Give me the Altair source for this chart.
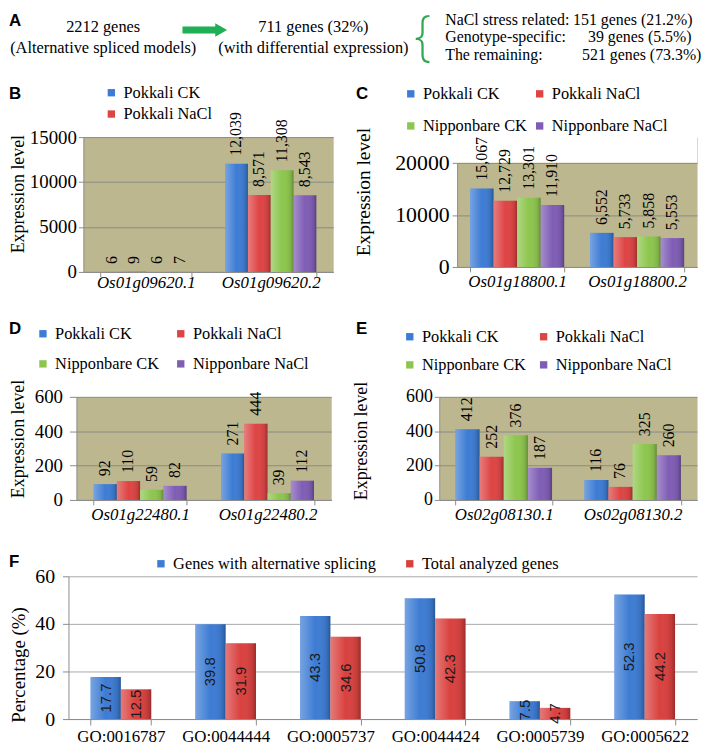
import altair as alt
import pandas as pd

# ---------------- data ----------------
series = ["Pokkali CK", "Pokkali NaCl", "Nipponbare CK", "Nipponbare NaCl"]
series_colors = ["#3D7CD4", "#DE4444", "#8DC64E", "#7F5DB5"]

b_genes = ["Os01g09620.1", "Os01g09620.2"]
b_values = [[6, 9, 6, 7], [12039, 8571, 11308, 8543]]
c_genes = ["Os01g18800.1", "Os01g18800.2"]
c_values = [[15067, 12729, 13301, 11910], [6552, 5733, 5858, 5553]]
d_genes = ["Os01g22480.1", "Os01g22480.2"]
d_values = [[92, 110, 59, 82], [271, 444, 39, 112]]
e_genes = ["Os02g08130.1", "Os02g08130.2"]
e_values = [[412, 252, 376, 187], [116, 76, 325, 260]]

go_terms = ["GO:0016787", "GO:0044444", "GO:0005737", "GO:0044424", "GO:0005739", "GO:0005622"]
go_series = ["Genes with alternative splicing", "Total analyzed genes"]
go_as = [17.7, 39.8, 43.3, 50.8, 7.5, 52.3]
go_total = [12.5, 31.9, 34.6, 42.3, 4.7, 44.2]
go_colors = ["#3D7CD4", "#D9413F"]

a_left = ["2212 genes", "(Alternative spliced models)"]
a_mid = ["711 genes (32%)", "(with differential expression)"]
a_right_labels = ["NaCl stress related:", "Genotype-specific:", "The remaining:"]
a_right_values = ["151 genes (21.2%)", "39 genes (5.5%)", "521 genes (73.3%)"]

# ---------------- styles ----------------
SERIF = "Liberation Serif"
SANS = "Liberation Sans"
OLIVE = "#BDB78F"
AX = "#8C8C8C"
GRID_OLIVE = "#8A8A86"
GRID_F = "#A8A8A8"
GREEN = "#1FAF55"

dummy = pd.DataFrame({"k": [0]})

shade = alt.LinearGradient(
    gradient="linear", x1=0, x2=1, y1=0, y2=0,
    stops=[
        alt.GradientStop(offset=0, color="rgba(255,255,255,0.30)"),
        alt.GradientStop(offset=0.5, color="rgba(255,255,255,0.0)"),
        alt.GradientStop(offset=0.88, color="rgba(0,0,0,0.10)"),
        alt.GradientStop(offset=1, color="rgba(0,0,0,0.30)"),
    ],
)


def txt(s, x, y, size=16.5, align="center", font=SERIF, color="black", weight="normal"):
    return alt.Chart(dummy).mark_text(
        text=s, align=align, baseline="middle", font=font, fontSize=size,
        color=color, fontWeight=weight
    ).encode(x=alt.value(x), y=alt.value(y))


def tag(letter, x, y):
    return alt.Chart(dummy).mark_text(
        text=letter, font=SANS, fontWeight="bold", fontSize=17,
        align="left", baseline="top", color="black"
    ).encode(x=alt.value(x), y=alt.value(y))


def spacer(w, h):
    return alt.Chart(dummy).mark_point(opacity=0).encode(
        x=alt.value(0), y=alt.value(0)
    ).properties(width=w, height=h, view=alt.ViewBackground(stroke="transparent"))


def expr_panel(genes, values, letter, w, h, ymax, yticks, pad_inner, cfg, top=0):
    df = pd.DataFrame([
        {"gene": g, "series": s, "value": v}
        for g, vals in zip(genes, values) for s, v in zip(series, vals)
    ])
    x = alt.X("gene:N", sort=genes,
              scale=alt.Scale(paddingInner=pad_inner, paddingOuter=pad_inner / 2),
              axis=alt.Axis(title=None, labelAngle=0, labelFont=SERIF, labelFontStyle="italic",
                            labelFontSize=17, labelColor="black", labelBaseline="middle",
                            labelPadding=cfg["xpad"], tickSize=5, tickBand="extent",
                            domainColor=AX, tickColor=AX, grid=False))
    xo = alt.XOffset("series:N", sort=series, scale=alt.Scale(domain=series))
    if top:
        yscale = alt.Scale(domain=[0, ymax], nice=False, zero=True, range=[h, top])
    else:
        yscale = alt.Scale(domain=[0, ymax], nice=False, zero=True)
    y = alt.Y("value:Q", scale=yscale,
              axis=alt.Axis(values=yticks, format="d", title="Expression level",
                            titleFont=SERIF, titleFontSize=cfg["tsize"], titleFontWeight="normal",
                            titleColor="black", titleX=cfg["tx"], titleY=cfg["ty"], titleAngle=270,
                            titleAlign="center", titleBaseline="middle",
                            labelFont=SERIF, labelFontSize=cfg["ysize"], labelColor="black",
                            labelPadding=cfg["ypad"], tickSize=cfg["ytick"],
                            domainColor=AX, tickColor=AX, gridColor=GRID_OLIVE, gridWidth=1))
    legend_kw = dict(
        orient="none", legendX=cfg["lx"], legendY=cfg["ly"], title=None,
        columns=cfg["cols"], direction="horizontal" if cfg["cols"] > 1 else "vertical",
        symbolType="square", symbolSize=55, symbolStrokeWidth=0,
        labelFont=SERIF, labelFontSize=16.5, labelColor="black", labelOffset=4, labelLimit=300,
        rowPadding=cfg["rowpad"], columnPadding=cfg["colpad"], padding=0,
    )
    if "lvals" in cfg:
        legend_kw["values"] = cfg["lvals"]
    base = alt.Chart(df)
    bars = base.mark_bar().encode(
        x=x, xOffset=xo, y=y,
        color=alt.Color("series:N", sort=series,
                        scale=alt.Scale(domain=series, range=series_colors),
                        legend=alt.Legend(**legend_kw)))
    gloss = base.mark_bar(fill=shade).encode(x=x, xOffset=xo, y=y)
    labels = base.mark_text(angle=270, align="left", baseline="middle", dx=8,
                            font=SERIF, fontSize=16, color="black").encode(
        x=x, xOffset=xo, y=y, text=alt.Text("value:Q", format=","))
    layers = []
    if top:
        layers.append(alt.Chart(dummy).mark_rect(color="white").encode(
            x=alt.value(0), x2=alt.value(w), y=alt.value(0), y2=alt.value(top)))
    layers += [bars, gloss, labels, tag(letter, cfg["tagx"], cfg["tagy"])]
    return alt.layer(*layers).properties(
        width=w, height=h, view=alt.ViewBackground(fill=OLIVE, stroke="transparent"))


# ---------------- panel A (view top ~ page y 22, left = page x 68) ----------------
panel_a = alt.layer(
    tag("A", -60, -14),
    txt(a_left[0], 35, 0), txt(a_left[1], 35, 21),
    alt.Chart(dummy).mark_rule(color=GREEN, strokeWidth=7).encode(
        x=alt.value(115), x2=alt.value(151), y=alt.value(3)),
    alt.Chart(dummy).mark_point(shape="triangle-right", filled=True, size=190,
                                color=GREEN, opacity=1).encode(
        x=alt.value(154), y=alt.value(3)),
    txt(a_mid[0], 247, 0), txt(a_mid[1], 247, 21),
    alt.Chart(dummy).mark_text(text="{", font="Inter", fontWeight=200, fontSize=54,
                               color="#33A852", align="center", baseline="middle").encode(
        x=alt.value(357), y=alt.value(13)),
    txt(a_right_labels[0], 380, -7, size=16, align="left"),
    txt(a_right_values[0], 509, -7, size=16, align="left"),
    txt(a_right_labels[1], 380, 10.5, size=16, align="left"),
    txt(a_right_values[1], 524, 10.5, size=16, align="left"),
    txt(a_right_labels[2], 380, 28, size=16, align="left"),
    txt(a_right_values[2], 518, 28, size=16, align="left"),
).properties(width=634, height=60, view=alt.ViewBackground(stroke="transparent"))

# ---------------- panels B-E ----------------
panel_b = expr_panel(b_genes, b_values, "B", 252, 136, 15000, [0, 5000, 10000, 15000], 0.27, dict(
    xpad=6, tsize=18, tx=-65, ty=57, ysize=19, ypad=2, ytick=5,
    lx=20, ly=-53, cols=1, rowpad=4.5, colpad=10, lvals=["Pokkali CK", "Pokkali NaCl"],
    tagx=-75, tagy=-51))
panel_c = expr_panel(c_genes, c_values, "C", 242, 131, 20000, [0, 10000, 20000], 0.215, dict(
    xpad=10, tsize=19.5, tx=-94, ty=55, ysize=22, ypad=3, ytick=5,
    lx=-55, ly=-52, cols=2, rowpad=15.5, colpad=4,
    tagx=-102, tagy=-51), top=26)
panel_d = expr_panel(d_genes, d_values, "D", 257, 104, 600, [0, 200, 400, 600], 0.27, dict(
    xpad=10, tsize=18, tx=-58, ty=42, ysize=19, ypad=7, ytick=7,
    lx=-42, ly=-72, cols=2, rowpad=13.5, colpad=13,
    tagx=-68, tagy=-76))
panel_e = expr_panel(e_genes, e_values, "E", 260, 104, 600, [0, 200, 400, 600], 0.25, dict(
    xpad=10, tsize=18, tx=-78, ty=44, ysize=18, ypad=2, ytick=5,
    lx=-38, ly=-69, cols=2, rowpad=11.5, colpad=9,
    tagx=-84, tagy=-76))

# ---------------- panel F ----------------
df_f = pd.DataFrame([
    {"go": g, "series": s, "value": v}
    for s, vals in zip(go_series, [go_as, go_total]) for g, v in zip(go_terms, vals)
])
fx = alt.X("go:N", sort=go_terms, scale=alt.Scale(paddingInner=0.42, paddingOuter=0.21),
           axis=alt.Axis(title=None, labelAngle=0, labelFont=SERIF, labelFontSize=17,
                         labelColor="black", labelBaseline="middle", labelPadding=12,
                         tickSize=6, tickBand="extent", domainColor=AX, tickColor=AX, grid=False))
fxo = alt.XOffset("series:N", sort=go_series, scale=alt.Scale(domain=go_series))
f_axis = alt.Axis(values=[0, 20, 40, 60], title="Percentage (%)", titleFont=SERIF, titleFontSize=19,
                  titleFontWeight="normal", titleColor="black", titleX=-50, titleY=89,
                  titleAngle=270, titleAlign="center", titleBaseline="middle",
                  labelFont=SERIF, labelFontSize=20, labelColor="black", labelPadding=8,
                  tickSize=6, domainColor=AX, tickColor=AX, gridColor=GRID_F, gridWidth=1)
f_scale = alt.Scale(domain=[0, 60], nice=False, zero=True)
fy = alt.Y("value:Q", scale=f_scale, axis=f_axis)
fbase = alt.Chart(df_f)
f_bars = fbase.mark_bar().encode(
    x=fx, xOffset=fxo, y=fy,
    color=alt.Color("series:N", sort=go_series,
                    scale=alt.Scale(domain=go_series, range=go_colors),
                    legend=alt.Legend(orient="none", legendX=85, legendY=-21, title=None,
                                      columns=2, direction="horizontal", symbolType="square",
                                      symbolSize=55, symbolStrokeWidth=0, labelFont=SERIF,
                                      labelFontSize=16.5, labelColor="black", labelOffset=4,
                                      labelLimit=300, columnPadding=25, padding=0)))
f_gloss = fbase.mark_bar(fill=shade).encode(x=fx, xOffset=fxo, y=fy)
f_labels = fbase.transform_calculate(half="datum.value / 2").mark_text(
    angle=270, align="center", baseline="middle", font=SANS, fontSize=15, color="#1A1A1A"
).encode(x=fx, xOffset=fxo, y=alt.Y("half:Q", scale=f_scale, axis=f_axis),
         text=alt.Text("value:Q", format=".1f"))
panel_f = alt.layer(f_bars, f_gloss, f_labels, tag("F", -60, -22)).properties(
    width=634, height=144, view=alt.ViewBackground(fill="white", stroke="transparent"))

# ---------------- layout ----------------
def indep(c):
    return c.resolve_scale(color="independent", xOffset="independent").resolve_legend(
        color="independent")


row_bc = indep(alt.hconcat(spacer(15, 1), panel_b, spacer(125, 1), panel_c,
                           spacing=0, bounds="flush"))
row_de = indep(alt.hconcat(spacer(8, 1), panel_d, spacer(109, 1), panel_e,
                           spacing=0, bounds="flush"))

# rows nested in the flush vconcat count as zero height, so the spacers carry the full offsets
chart = indep(alt.vconcat(
    panel_a, spacer(1, 51), row_bc, spacer(1, 262), row_de, spacer(1, 181), panel_f,
    spacing=0, bounds="flush"
)).properties(padding=0).configure_legend(labelFont=SERIF, labelFontSize=16.5)

chart.save("out.html", embed_options={"renderer": "svg", "actions": False})
